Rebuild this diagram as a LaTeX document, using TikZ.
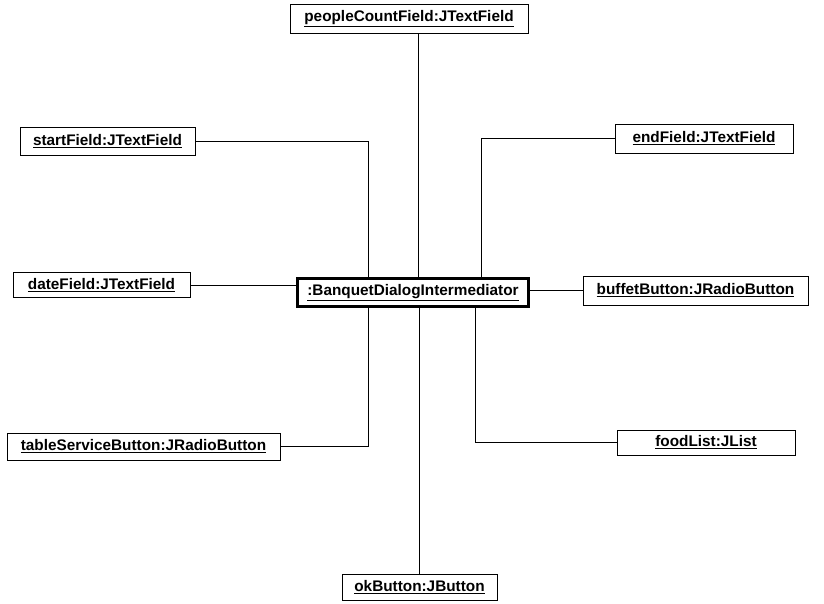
\documentclass[tikz,border=0pt]{standalone}
\usepackage{fontspec}
\setmainfont{Liberation Sans}
\usetikzlibrary{calc}
\begin{document}
\begin{tikzpicture}[x=0.75pt,y=-0.75pt,
  obj/.style={draw=black, line width=0.7pt, inner sep=0pt, align=center,
    font=\bfseries\fontsize{11.5}{13}\selectfont},
  mediator/.style={obj, line width=2.2pt},
  link/.style={draw=black, line width=0.7pt}]
\useasboundingbox (0,0) rectangle (824,603);

% objects
\node[obj, minimum width=178.5pt, minimum height=21.75pt] (people) at (409,18.5) {\underline{peopleCountField:JTextField}};
\node[obj, minimum width=131.25pt, minimum height=21pt] (start) at (107.5,141) {\underline{startField:JTextField}};
\node[obj, minimum width=133.5pt, minimum height=21.75pt] (end) at (704,138.5) {\underline{endField:JTextField}};
\node[obj, minimum width=132.75pt, minimum height=18.75pt] (date) at (101.5,285) {\underline{dateField:JTextField}};
\node[mediator, minimum width=173.5pt, minimum height=21.5pt] (center) at (413,292.5) {\underline{:BanquetDialogIntermediator}};
\node[obj, minimum width=168.75pt, minimum height=21.75pt] (buffet) at (695.5,290.5) {\underline{buffetButton:JRadioButton}};
\node[obj, minimum width=204.75pt, minimum height=20.25pt] (table) at (143.5,446.5) {\underline{tableServiceButton:JRadioButton}};
\node[obj, minimum width=133.5pt, minimum height=18.75pt] (food) at (706,442.5) {\underline{foodList:JList}};
\node[obj, minimum width=116.25pt, minimum height=19.5pt] (ok) at (419.5,587) {\underline{okButton:JButton}};

% connectors to the mediator
\coordinate (upL) at ($(center.north)+(-45,0)$);
\coordinate (upR) at ($(center.north)+(68,0)$);
\coordinate (dnL) at ($(center.south)+(-45,0)$);
\coordinate (dnR) at ($(center.south)+(62,0)$);
\coordinate (mid) at ($(center.north)+(5,0)$);

\draw[link] (people.south -| mid) -- (mid);
\draw[link] (start.east) -| (upL);
\draw[link] (end.west) -| (upR);
\draw[link] (date.east) -- (date.east -| center.west);
\draw[link] (center.east |- buffet.west) -- (buffet.west);
\draw[link] (table.east) -| (dnL);
\draw[link] (food.west) -| (dnR);
\draw[link] (ok.north) -- (ok.north |- center.south);
\end{tikzpicture}
\end{document}
